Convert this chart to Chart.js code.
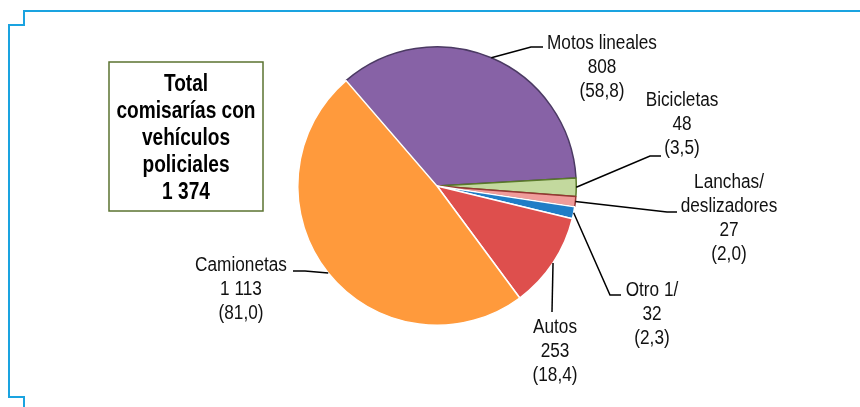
<!DOCTYPE html>
<html>
<head>
<meta charset="utf-8">
<script src="https://cdn.jsdelivr.net/npm/chart.js@4/dist/chart.umd.min.js"></script>
<style>
  html, body { margin: 0; padding: 0; background: #fff; }
  #wrap { position: relative; width: 860px; height: 407px; }
</style>
</head>
<body>
<div id="wrap"><canvas id="pieChart" width="860" height="407"></canvas></div>
<script>
// Vehicle types, counts and share of police stations (%)
const categories = ["Motos lineales", "Bicicletas", "Lanchas/ deslizadores", "Otro 1/", "Autos", "Camionetas"];
const vehicles = [808, 48, 27, 32, 253, 1113];
const shares = ["58,8", "3,5", "2,0", "2,3", "18,4", "81,0"];
const totalStations = 1374;
const boxTitle = ["Total", "comisarías con", "vehículos", "policiales"];

const fills = ["#8762A6", "#C3D99E", "#F09C9A", "#1F7DC6", "#DE4F4D", "#FF9A3C"];
const borders = ["#4B3A63", "#5A7A2A", "#963634", "#ffffff", "#ffffff", "#ffffff"];

// label placement: elbow point, line end, text centre x, first baseline
const labelPos = [
  { elbow: [531, 47], end: [543, 47], x: 602, y: 49 },
  { elbow: [650, 156], end: [661, 156], x: 682, y: 106 },
  { elbow: [667, 212], end: [677, 212], x: 729, y: 188 },
  { elbow: [610, 295], end: [621, 295], x: 652, y: 296 },
  { elbow: [552, 312], end: [552, 312], x: 555, y: 333 },
  { elbow: [305, 271], end: [293, 271], x: 241, y: 271 },
];

const fmt = (n) => String(n).replace(/\B(?=(\d{3})+(?!\d))/g, " ");
const sans = "'Liberation Sans', Arial, sans-serif";

// no narrow font installed, so squeeze the text horizontally
function narrowText(ctx, text, x, y, squeeze) {
  ctx.save();
  ctx.translate(x, y);
  ctx.scale(squeeze, 1);
  ctx.fillText(text, 0, 0);
  ctx.restore();
}

const framePlugin = {
  id: "frame",
  beforeDraw(chart) {
    const ctx = chart.ctx;
    ctx.save();
    ctx.strokeStyle = "#1AA3E0";
    ctx.lineWidth = 2;
    ctx.beginPath();
    ctx.moveTo(860, 11);
    ctx.lineTo(24, 11);
    ctx.lineTo(24, 25);
    ctx.lineTo(9, 25);
    ctx.lineTo(9, 397);
    ctx.lineTo(24, 397);
    ctx.lineTo(24, 407);
    ctx.stroke();

    // total box
    ctx.strokeStyle = "#5B7330";
    ctx.lineWidth = 1.5;
    ctx.strokeRect(109, 62, 154, 149);
    ctx.fillStyle = "#000";
    ctx.textAlign = "center";
    ctx.font = "bold 23px " + sans;
    const lines = boxTitle.concat([fmt(totalStations)]);
    lines.forEach((t, i) => narrowText(ctx, t, 186, 91 + i * 27, 0.83));
    ctx.restore();
  },
};

const labelPlugin = {
  id: "pieLabels",
  afterDatasetsDraw(chart) {
    const ctx = chart.ctx;
    const arcs = chart.getDatasetMeta(0).data;
    ctx.save();
    ctx.strokeStyle = "#000";
    ctx.lineWidth = 1.5;
    ctx.fillStyle = "#111";
    ctx.font = "20px " + sans;
    ctx.textAlign = "center";
    arcs.forEach((arc, i) => {
      const p = arc.getProps(["x", "y", "startAngle", "endAngle", "outerRadius"], true);
      const mid = (p.startAngle + p.endAngle) / 2;
      const ax = p.x + Math.cos(mid) * p.outerRadius;
      const ay = p.y + Math.sin(mid) * p.outerRadius;
      const lp = labelPos[i];
      ctx.beginPath();
      ctx.moveTo(ax, ay);
      ctx.lineTo(lp.elbow[0], lp.elbow[1]);
      ctx.lineTo(lp.end[0], lp.end[1]);
      ctx.stroke();
      const text = categories[i].indexOf("/ ") > 0
        ? categories[i].split("/ ").map((s, k, a) => (k < a.length - 1 ? s + "/" : s))
        : [categories[i]];
      const all = text.concat([fmt(vehicles[i]), "(" + shares[i] + ")"]);
      all.forEach((t, k) => narrowText(ctx, t, lp.x, lp.y + k * 24, 0.86));
    });
    ctx.restore();
  },
};

new Chart(document.getElementById("pieChart"), {
  type: "pie",
  data: {
    labels: categories,
    datasets: [
      {
        data: vehicles,
        backgroundColor: fills,
        borderColor: borders,
        borderWidth: 1.5,
        hoverOffset: 0,
      },
    ],
  },
  options: {
    responsive: false,
    animation: false,
    rotation: -40.8,
    layout: { padding: { left: 297, right: 283, top: 46, bottom: 81 } },
    plugins: {
      legend: { display: false },
      tooltip: { enabled: false },
    },
  },
  plugins: [framePlugin, labelPlugin],
});
</script>
</body>
</html>
